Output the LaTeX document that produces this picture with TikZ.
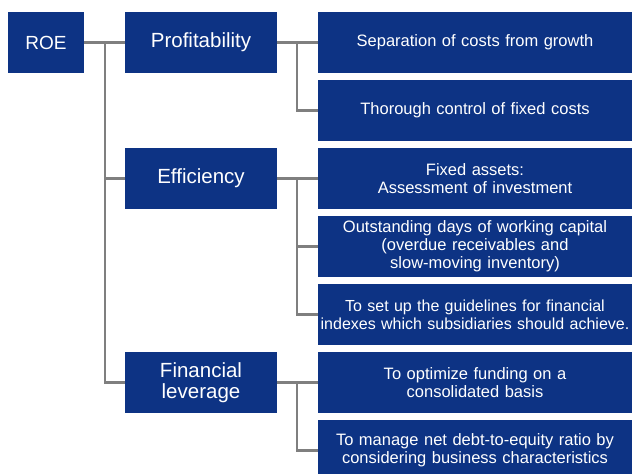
\documentclass[tikz,border=0pt]{standalone}
\usepackage{fontspec}
\setmainfont{Liberation Sans}
\usetikzlibrary{positioning}
\definecolor{navy}{HTML}{0D3384}
\definecolor{wire}{HTML}{7F7F7F}

\begin{document}
\begin{tikzpicture}[
  x=1pt, y=-1pt,
  box/.style={fill=navy, text=white, align=center, inner sep=0pt, minimum height=61pt},
  root/.style={box, minimum width=76pt, font=\fontsize{19}{21}\selectfont},
  mid/.style={box, minimum width=152pt, font=\fontsize{20.5}{21}\selectfont},
  leaf/.style={box, minimum width=314pt, text width=312pt, font=\fontsize{16.5}{18}\selectfont},
  link/.style={draw=wire, line width=2.3pt},
]
\useasboundingbox (0,0) rectangle (632,474);

% ---------- root ----------
\node[root] (ROE) at (46,42.5) {ROE};

% ---------- drivers ----------
\node[mid] (PR) at (201,42.5)  {Profitability};
\node[mid] (EF) at (201,178.5) {Efficiency};
\node[mid] (FL) at (201,382.5) {Financial\\leverage};

% ---------- measures ----------
\node[leaf] (P1) at (475,42.5)  {Separation of costs from growth};
\node[leaf] (P2) at (475,110.5) {Thorough control of fixed costs};
\node[leaf] (E1) at (475,178.5) {Fixed assets:\\Assessment of investment};
\node[leaf] (E2) at (475,246.5) {Outstanding days of working capital\\(overdue receivables and\\slow-moving inventory)};
\node[leaf, font=\fontsize{16}{18}\selectfont] (E3) at (475,314.5) {To set up the guidelines for financial\\indexes which subsidiaries should achieve.};
\node[leaf] (L1) at (475,382.5) {To optimize funding on a\\consolidated basis};
\node[leaf] (L2) at (475,450.5) {To manage net debt-to-equity ratio by\\considering business characteristics};

% ---------- branch points ----------
\coordinate (TR) at (105,42.5);
\coordinate (PB) at (297,42.5);
\coordinate (EB) at (297,178.5);
\coordinate (LB) at (297,382.5);

% ---------- edges ----------
\draw[link] (ROE.east) -- (PR.west);
\draw[link] (TR) |- (EF.west);
\draw[link] (TR) |- (FL.west);

\draw[link] (PR.east) -- (P1.west);
\draw[link] (PB) |- (P2.west);

\draw[link] (EF.east) -- (E1.west);
\draw[link] (EB) |- (E2.west);
\draw[link] (EB) |- (E3.west);

\draw[link] (FL.east) -- (L1.west);
\draw[link] (LB) |- (L2.west);

\end{tikzpicture}
\end{document}
